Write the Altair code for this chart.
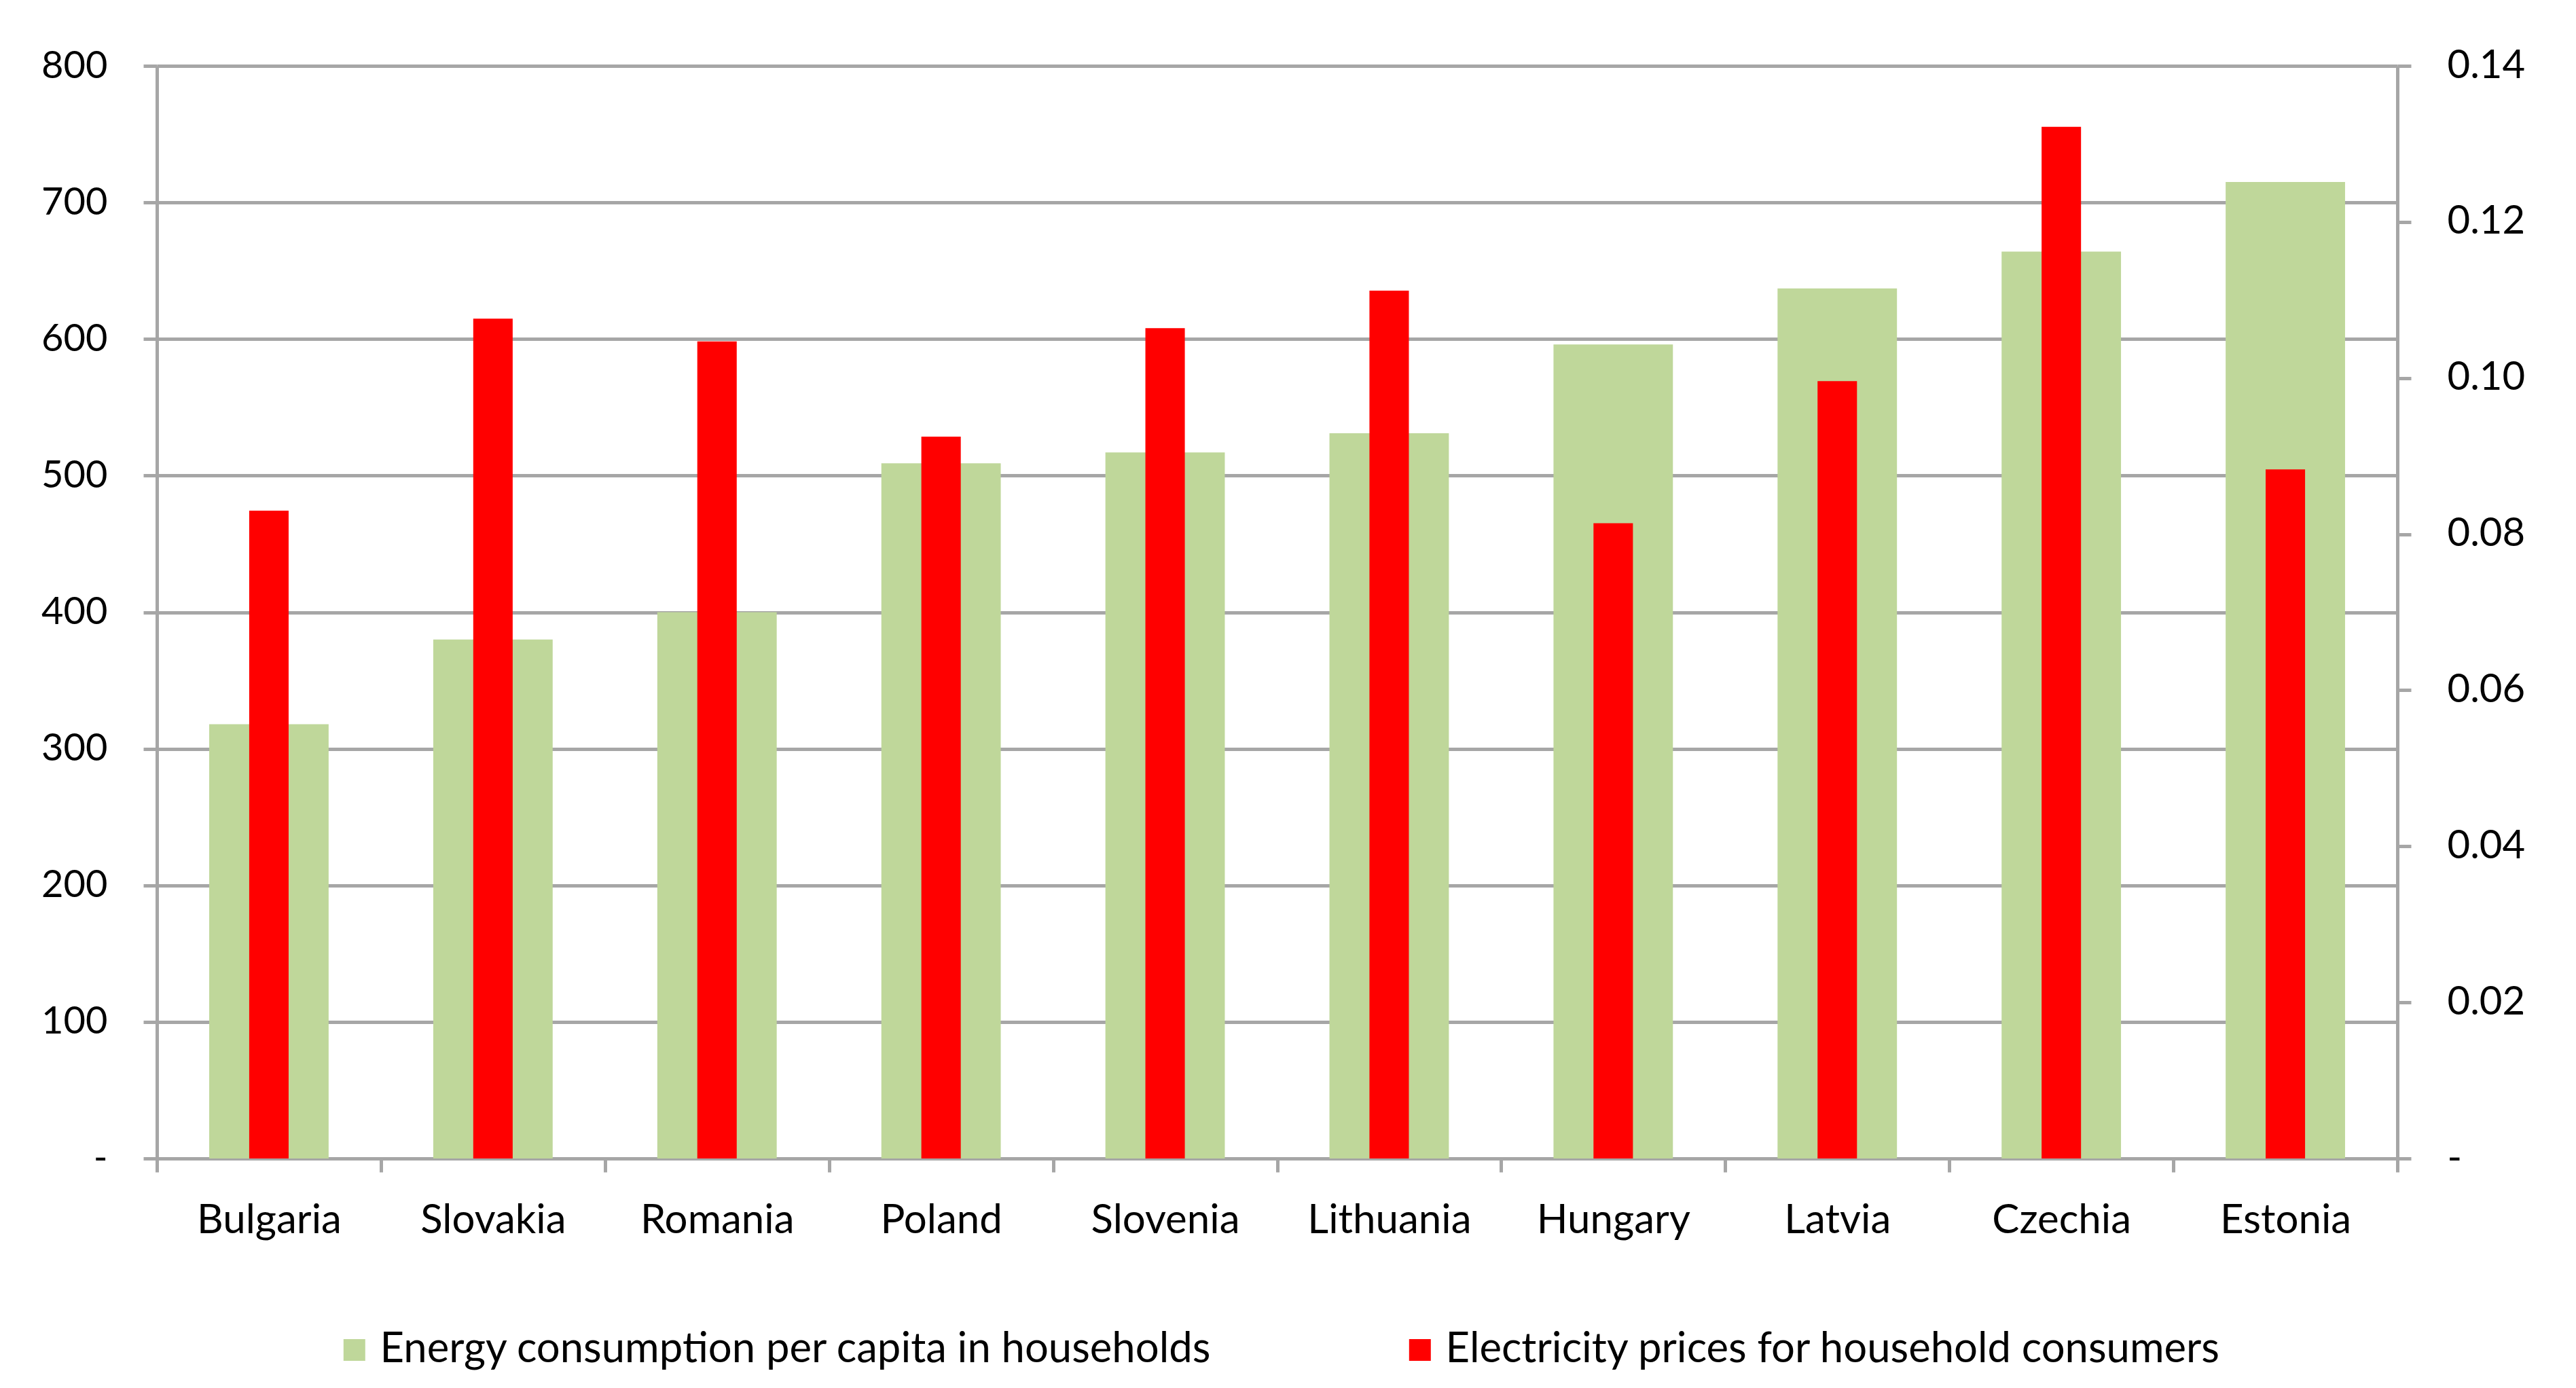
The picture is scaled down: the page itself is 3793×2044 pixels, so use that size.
import altair as alt
import pandas as pd

countries = ["Bulgaria", "Slovakia", "Romania", "Poland", "Slovenia",
             "Lithuania", "Hungary", "Latvia", "Czechia", "Estonia"]
energy = [318, 380, 400, 509, 517, 531, 596, 637, 664, 715]
price = [0.0830, 0.1076, 0.1047, 0.0925, 0.1064, 0.1112, 0.0814, 0.0996, 0.1322, 0.0883]
series = ["Energy consumption per capita in households",
          "Electricity prices for household consumers"]
colors = ["#BFD79A", "#FF0000"]
left_ticks = [0, 100, 200, 300, 400, 500, 600, 700, 800]
right_ticks = [0, 0.02, 0.04, 0.06, 0.08, 0.10, 0.12, 0.14]

df_energy = pd.DataFrame({"country": countries, "value": energy, "series": series[0]})
df_price = pd.DataFrame({"country": countries, "value": price, "series": series[1]})

FONT = "Lato"
GRID = "#A6A6A6"
FS = 56

color_scale = alt.Scale(domain=series, range=colors)
legend = alt.Legend(
    title=None, orient="none", legendX=260, legendY=1860,
    direction="horizontal", symbolType="square", symbolSize=1024,
    symbolStrokeWidth=0, labelFont=FONT, labelFontSize=61.6, labelColor="black",
    labelLimit=3000, labelOffset=7, columnPadding=274, padding=0,
)

x_enc = alt.X(
    "country:N", sort=countries,
    scale=alt.Scale(paddingInner=0, paddingOuter=0),
    axis=alt.Axis(title=None, labelAngle=0, tickBand="extent", labelPadding=42,
                  labelFontSize=60, labelLimit=0, grid=False),
)

green = alt.Chart(df_energy).mark_bar(width={"band": 0.533}).encode(
    x=x_enc,
    y=alt.Y("value:Q", scale=alt.Scale(domain=[0, 800], nice=False),
            axis=alt.Axis(title=None, orient="left", values=left_ticks, grid=True,
                          gridColor=GRID, gridWidth=5, labelPadding=53,
                          labelExpr="datum.value == 0 ? '-\u00a0\u00a0' : format(datum.value, 'd')")),
    color=alt.Color("series:N", scale=color_scale, legend=legend),
)

red = alt.Chart(df_price).mark_bar(width={"band": 0.176}).encode(
    x=x_enc,
    y=alt.Y("value:Q", scale=alt.Scale(domain=[0, 0.14], nice=False),
            axis=alt.Axis(title=None, orient="right", values=right_ticks, grid=False,
                          labelPadding=53, labelFontSize=58,
                          labelExpr="datum.value == 0 ? '\u00a0-' : format(datum.value, '.2f')")),
    color=alt.Color("series:N", scale=color_scale, legend=legend),
)

chart = alt.layer(green, red).resolve_scale(y="independent").properties(
    width=3299, height=1609,
    autosize=alt.AutoSizeParams(type="none"),
    padding={"left": 223, "top": 89, "right": 240, "bottom": 320},
    background="white",
).configure_view(stroke=None).configure_axis(
    domainColor=GRID, domainWidth=5, tickColor=GRID, tickWidth=5, tickSize=20,
    labelFont=FONT, labelFontSize=FS, labelColor="black",
)

chart.save("out.html", embed_options={"renderer": "svg", "actions": False})
